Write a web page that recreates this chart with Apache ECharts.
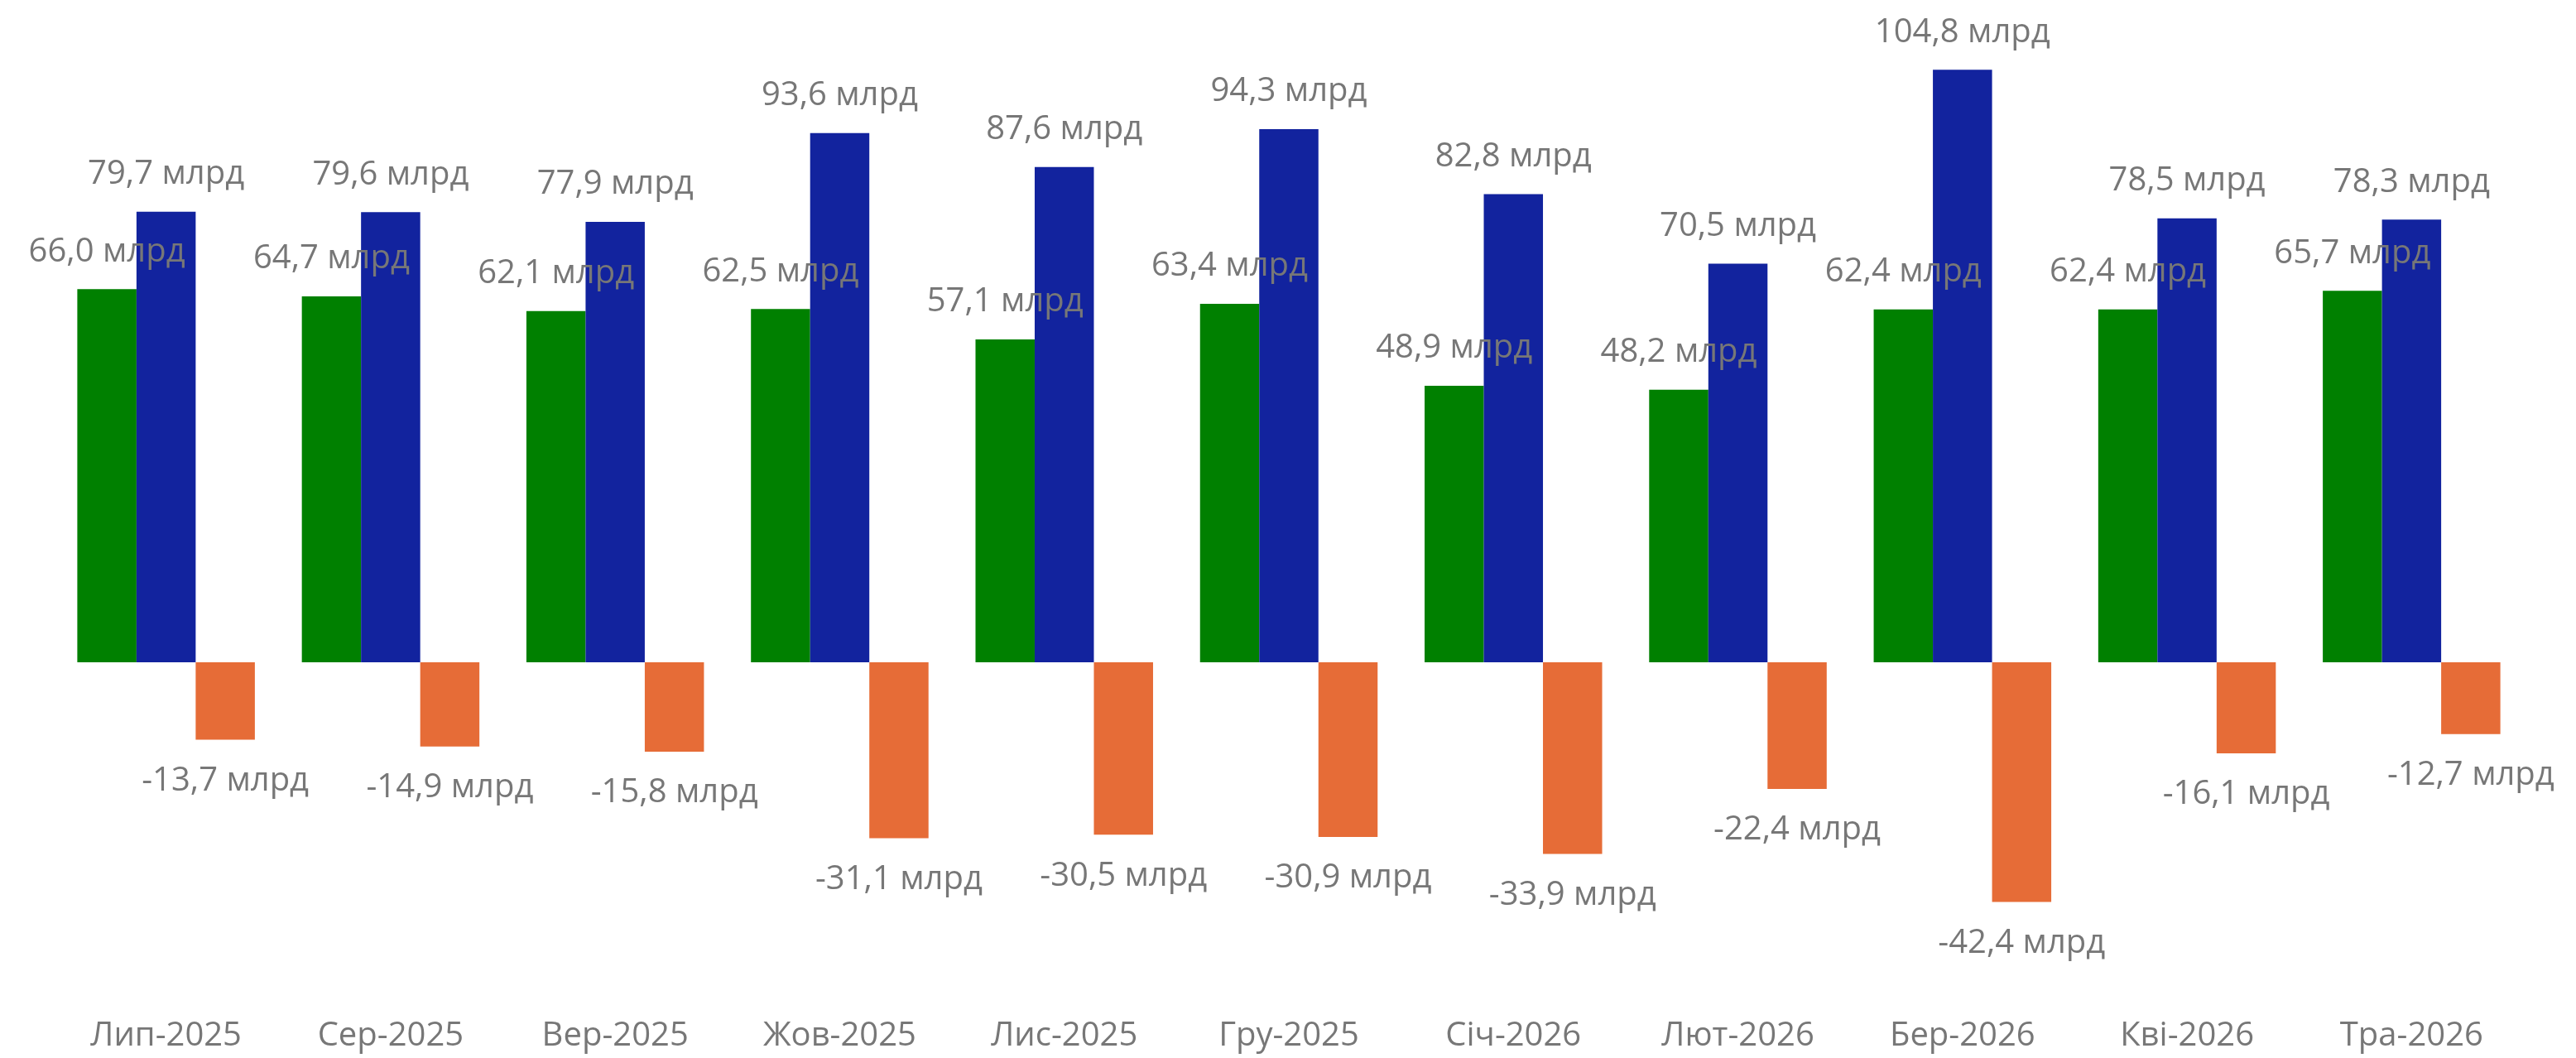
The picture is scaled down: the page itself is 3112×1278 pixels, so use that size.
<!DOCTYPE html>
<html lang="uk">
<head>
    <meta charset="UTF-8">
    <title>Доходи, видатки, дефіцит</title>
    <style>
        html, body { margin: 0; padding: 0; background: #fff; }
        #chart { width: 3112px; height: 1278px; }
    </style>
</head>
<body>
<div id="chart"></div>
<script src="https://cdn.jsdelivr.net/npm/echarts@6/dist/echarts.min.js"></script>
<script>
    // місяці
    var months = ['Лип-2025', 'Сер-2025', 'Вер-2025', 'Жов-2025', 'Лис-2025', 'Гру-2025',
        'Січ-2026', 'Лют-2026', 'Бер-2026', 'Кві-2026', 'Тра-2026']
    // зелені стовпці
    var greenValues = [66.0, 64.7, 62.1, 62.5, 57.1, 63.4, 48.9, 48.2, 62.4, 62.4, 65.7]
    // сині стовпці
    var blueValues = [79.7, 79.6, 77.9, 93.6, 87.6, 94.3, 82.8, 70.5, 104.8, 78.5, 78.3]
    // помаранчеві (різниця)
    var orangeValues = [-13.7, -14.9, -15.8, -31.1, -30.5, -30.9, -33.9, -22.4, -42.4, -16.1, -12.7]

    var fontName = '"Open Sans", "Noto Sans", sans-serif'
    var grey = '#777777'

    function fmt(p) {
        return p.value.toFixed(1).replace('.', ',') + ' млрд'
    }

    function makeSeries(name, values, color, pos, dist) {
        return {
            name: name,
            type: 'bar',
            data: values,
            barWidth: 71.5,
            barGap: '0%',
            itemStyle: { color: color },
            label: {
                show: true,
                position: pos,
                distance: dist,
                formatter: fmt,
                color: grey,
                fontFamily: fontName,
                fontSize: 40
            }
        }
    }

    var chart = echarts.init(document.getElementById('chart'))
    chart.setOption({
        animation: false,
        backgroundColor: '#ffffff',
        grid: { left: 65, right: 63, top: 48.7, bottom: 68.2, containLabel: false },
        xAxis: {
            type: 'category',
            data: months,
            axisLine: { show: false, onZero: false },
            axisTick: { show: false },
            axisLabel: {
                color: grey,
                fontFamily: fontName,
                fontSize: 40,
                margin: 22,
                interval: 0
            }
        },
        yAxis: {
            type: 'value',
            min: -60,
            max: 110,
            show: false,
            splitLine: { show: false }
        },
        series: [
            makeSeries('green', greenValues, '#008000', 'top', 25),
            makeSeries('blue', blueValues, '#12239E', 'top', 25),
            makeSeries('orange', orangeValues, '#E66C37', 'bottom', 30)
        ]
    })
</script>
</body>
</html>
